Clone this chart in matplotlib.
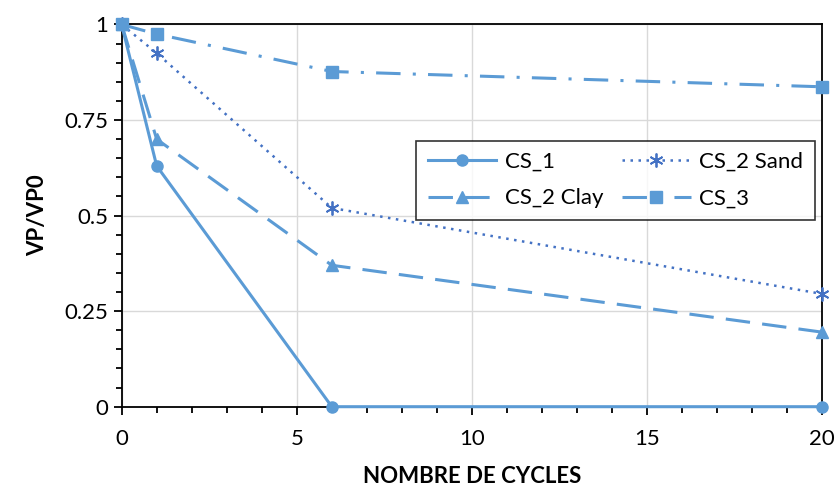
import matplotlib.pyplot as plt
import matplotlib.ticker as mt

plt.rcParams['font.family'] = ['Lato', 'DejaVu Sans']

cycles = [0, 1, 6, 20]
cs1 = [1.0, 0.63, 0.0, 0.0]
cs2_sand = [1.0, 0.925, 0.52, 0.295]
cs2_clay = [1.0, 0.70, 0.37, 0.195]
cs3 = [1.0, 0.975, 0.877, 0.837]

light = '#5B9BD5'
dark = '#4472C4'

fig, ax = plt.subplots(figsize=(8.39, 4.9), dpi=100)

h1, = ax.plot(cycles, cs1, color=light, lw=2.2, marker='o', ms=8, label='CS_1', clip_on=False, zorder=3)
h2, = ax.plot(cycles, cs2_sand, color=dark, lw=1.8, ls=(0, (1, 2.2)), marker=(6, 2, 0), ms=10, mew=1.3,
              label='CS_2 Sand', clip_on=False, zorder=3)
h3, = ax.plot(cycles, cs2_clay, color=light, lw=2.2, ls=(0, (8, 4)), marker='^', ms=8,
              label='CS_2 Clay', clip_on=False, zorder=3)
h4, = ax.plot(cycles, cs3, color=light, lw=2.2, ls=(0, (8, 4, 1, 4)), marker='s', ms=8,
              label='CS_3', clip_on=False, zorder=3)

ax.set_xlim(0, 20)
ax.set_ylim(0, 1)
ax.xaxis.set_major_locator(mt.MultipleLocator(5))
ax.xaxis.set_minor_locator(mt.MultipleLocator(1))
ax.yaxis.set_major_locator(mt.MultipleLocator(0.25))
ax.yaxis.set_minor_locator(mt.MultipleLocator(0.05))
ax.yaxis.set_major_formatter(mt.FuncFormatter(lambda v, p: f"{v:g}"))
ax.tick_params(which='both', direction='out', width=1.3, labelsize=16, colors='black')
ax.tick_params(which='major', length=6)
ax.tick_params(which='minor', length=4)
ax.tick_params(axis='x', pad=10)
ax.grid(True, which='major', color='#d9d9d9', lw=1)
ax.set_axisbelow(True)
for s in ax.spines.values():
    s.set_linewidth(1.3)
    s.set_color('black')

ax.set_xlabel('NOMBRE DE CYCLES', fontsize=16, fontweight='bold', labelpad=12)
ax.set_ylabel('VP/VP0', fontsize=16, fontweight='bold', labelpad=12)

# row-wise order like the original: CS_1, CS_2 Sand / CS_2 Clay, CS_3
leg = ax.legend([h1, h3, h2, h4], ['CS_1', 'CS_2 Clay', 'CS_2 Sand', 'CS_3'],
                ncol=2, loc='upper left', bbox_to_anchor=(0.405, 0.725), fontsize=16,
                frameon=True, fancybox=False, edgecolor='black', handlelength=3.1,
                columnspacing=0.8, borderpad=0.5, labelspacing=0.75, handletextpad=0.4)
leg.get_frame().set_linewidth(1.2)

plt.subplots_adjust(left=0.145, right=0.98, top=0.95, bottom=0.17)
plt.savefig('out.png', dpi=100)
